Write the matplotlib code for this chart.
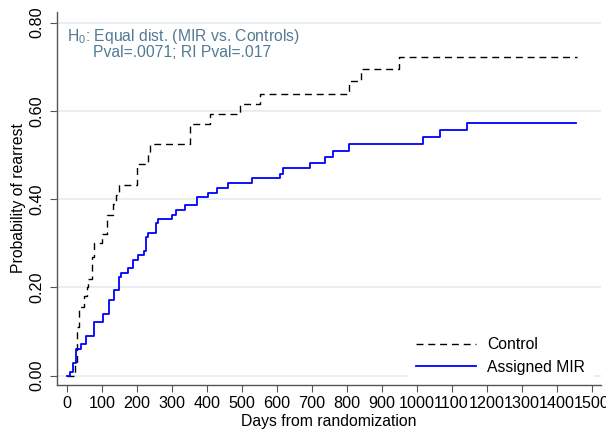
import matplotlib
matplotlib.use('Agg')
import matplotlib.pyplot as plt

plt.rcParams['font.family'] = ['Liberation Sans', 'DejaVu Sans']
plt.rcParams['mathtext.fontset'] = 'custom'
plt.rcParams['mathtext.rm'] = 'Liberation Sans'

# Kaplan-Meier style failure curves
control_days = [0, 24, 30, 36, 50, 57, 61, 72, 78, 100, 114, 131, 140, 150,
                200, 233, 238, 352, 408, 494, 553, 807, 841, 950, 1458]
control_prob = [0, 0.03, 0.11, 0.156, 0.18, 0.20, 0.22, 0.27, 0.30, 0.322,
                0.364, 0.39, 0.41, 0.432, 0.479, 0.504, 0.525, 0.570, 0.592,
                0.615, 0.638, 0.667, 0.695, 0.723, 0.723]

mir_days = [0, 9, 18, 26, 40, 56, 78, 104, 120, 134, 148, 155, 176, 190, 205,
            221, 227, 233, 255, 260, 300, 311, 338, 371, 405, 428, 462, 529,
            609, 617, 695, 738, 760, 807, 1019, 1067, 1143, 1457]
mir_prob = [0, 0.009, 0.029, 0.061, 0.071, 0.091, 0.121, 0.141, 0.171, 0.194,
            0.223, 0.233, 0.243, 0.262, 0.273, 0.283, 0.315, 0.324, 0.345,
            0.355, 0.364, 0.375, 0.387, 0.405, 0.415, 0.426, 0.437, 0.447,
            0.458, 0.470, 0.482, 0.496, 0.509, 0.524, 0.541, 0.557, 0.573,
            0.573]

x_ticks = list(range(0, 1501, 100))
y_ticks = [0.0, 0.2, 0.4, 0.6, 0.8]

label_size = 11.3
tick_size = 11.6
text_color = '#527a93'
grid_color = '#e6eef0'

fig = plt.figure(figsize=(6.06, 4.45), dpi=100)
ax = fig.add_axes([0.0946, 0.1348, 0.8971, 0.8382])

ax.step(control_days, control_prob, where='post', color='black', lw=1.0,
        linestyle=(0, (5, 3.5)), label='Control', zorder=3)
ax.step(mir_days, mir_prob, where='post', color='#0000ff', lw=1.3,
        label='Assigned MIR', zorder=3)

ax.set_xlim(-27, 1527)
ax.set_ylim(-0.021, 0.824)

ax.set_xticks(x_ticks)
ax.set_xticklabels([str(v) for v in x_ticks], fontsize=tick_size)
ax.set_yticks(y_ticks)
ax.set_yticklabels([f'{v:.2f}' for v in y_ticks], fontsize=tick_size,
                   rotation=90, va='center')
ax.tick_params(axis='both', direction='out', length=5, width=0.8,
               color='#555555')
ax.tick_params(axis='x', pad=3)
ax.tick_params(axis='y', pad=4.5)

ax.yaxis.grid(True, color=grid_color, lw=1.3, zorder=0)
ax.set_axisbelow(True)

for side in ['top', 'right']:
    ax.spines[side].set_visible(False)
for side in ['left', 'bottom']:
    ax.spines[side].set_color('#555555')
    ax.spines[side].set_linewidth(1.0)

ax.set_xlabel('Days from randomization', fontsize=label_size, labelpad=2)
ax.set_ylabel('Probability of rearrest', fontsize=label_size, labelpad=2)

ax.text(0.018, 0.922, r'H$_{\mathregular{0}}$: Equal dist. (MIR vs. Controls)',
        transform=ax.transAxes, fontsize=label_size, color=text_color,
        va='baseline', ha='left')
ax.text(0.066, 0.879, 'Pval=.0071; RI Pval=.017',
        transform=ax.transAxes, fontsize=label_size, color=text_color,
        va='baseline', ha='left')

leg = ax.legend(loc='lower right', bbox_to_anchor=(1.0, -0.014),
                fontsize=label_size, frameon=True, fancybox=False,
                handlelength=3.8, handletextpad=0.75, labelspacing=0.45,
                borderpad=0.5)
leg.get_frame().set_facecolor('white')
leg.get_frame().set_edgecolor('white')
leg.get_frame().set_alpha(1.0)

fig.savefig('out.png', dpi=100, facecolor='white')
